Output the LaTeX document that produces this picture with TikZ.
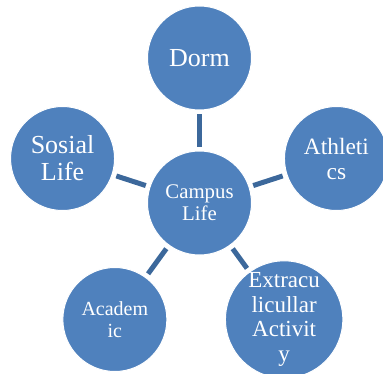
\documentclass[tikz,border=0pt]{standalone}
\usepackage{fontspec}
\setmainfont{Liberation Serif}
\usetikzlibrary{positioning}
\definecolor{bubblefill}{RGB}{79,129,189}
\definecolor{spokeline}{RGB}{60,104,155}

\begin{document}
\begin{tikzpicture}[x=1pt,y=1pt,
  bubble/.style={circle,fill=bubblefill,draw=white,line width=1pt,minimum size=104pt,inner sep=0pt,text=white,align=center},
  spoke/.style={draw=spokeline,line width=5pt,shorten <=4pt,shorten >=4pt}]
\useasboundingbox (0,0) rectangle (383,373);

% hub
\node[bubble,font=\fontsize{20.8}{22}\selectfont] (campus) at (199.5,170) {Campus\\Life};

% the five around it
\node[bubble,above=40pt of campus,font=\fontsize{26}{27}\selectfont] (dorm) {Dorm};
\node[bubble,font=\fontsize{23.4}{25}\selectfont] (athletics) at ([shift={(18:144)}]campus) {Athleti\\cs};
\node[bubble,font=\fontsize{26}{27}\selectfont] (social) at ([shift={(162:144)}]campus) {Sosial\\Life};
\node[bubble,font=\fontsize{20}{22}\selectfont] (academic) at ([shift={(234:144)}]campus) {Academ\\ic};
\node[bubble,font=\fontsize{23}{24.5}\selectfont] (extra) at ([shift={(306:144)}]campus) {Extracu\\licullar\\Activit\\y};

\foreach \n in {dorm,athletics,social,academic,extra}
  \draw[spoke] (campus) -- (\n);

\end{tikzpicture}
\end{document}
